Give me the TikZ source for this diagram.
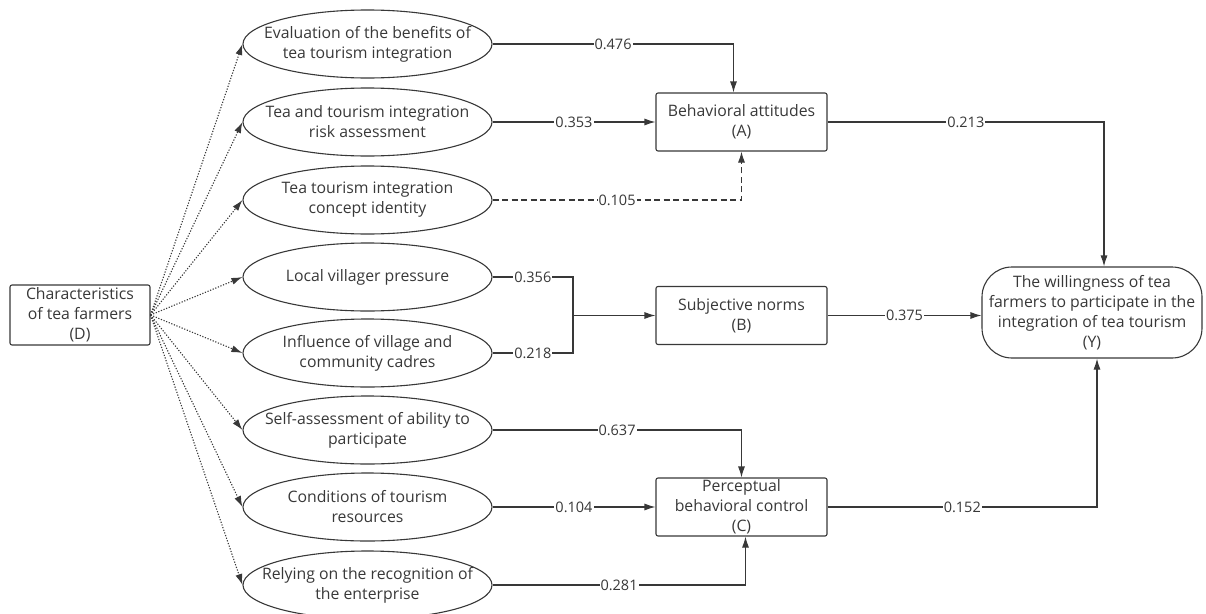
\documentclass[tikz,border=0pt]{standalone}
\usepackage{fontspec}
\setmainfont{Open Sans}
\usetikzlibrary{arrows.meta,shapes.geometric,positioning}

\definecolor{linegray}{HTML}{383838}
\definecolor{textgray}{HTML}{383838}

\tikzset{
  txt/.style={text=textgray, align=center, font=\fontsize{15.8}{20}\selectfont},
  factor/.style={txt, ellipse, draw=linegray, line width=1.1pt, minimum width=249pt, minimum height=68pt, inner xsep=-30pt, inner ysep=0pt},
  box/.style={txt, rectangle, rounded corners=2pt, draw=linegray, line width=1.1pt, minimum width=171pt, minimum height=58pt, inner sep=0pt},
  goal/.style={txt, rectangle, rounded corners=30pt, draw=linegray, line width=1.1pt, minimum width=220pt, minimum height=91pt, inner sep=0pt},
  effect/.style={draw=linegray, line width=1.1pt, -{Latex[length=11pt,width=7pt]}},
  spread/.style={effect, dash pattern=on 1.2pt off 1.6pt},
  weak/.style={effect, dash pattern=on 6pt off 3.5pt},
  coef/.style={fill=white, inner sep=1pt, text=textgray, font=\fontsize{14.5}{16}\selectfont}
}

\begin{document}
\begin{tikzpicture}[x=1pt, y=-1pt]
    \useasboundingbox (0,0) rectangle (1206,613);

% farmers and the eight factors
    \node[box, minimum width=140pt, minimum height=60pt] (D) at (80,315) {Characteristics\\of tea farmers\\(D)};
    \node[factor] (E1) at (367.5,44)  {Evaluation of the benefits of\\tea tourism integration};
    \node[factor] (E2) at (367.5,122) {Tea and tourism integration\\risk assessment};
    \node[factor] (E3) at (367.5,200) {Tea tourism integration\\concept identity};
    \node[factor] (E4) at (367.5,277) {Local villager pressure};
    \node[factor] (E5) at (367.5,353) {Influence of village and\\community cadres};
    \node[factor] (E6) at (367.5,430) {Self-assessment of ability to\\participate};
    \node[factor] (E7) at (367.5,507) {Conditions of tourism\\resources};
    \node[factor] (E8) at (367.5,585) {Relying on the recognition of\\the enterprise};

% the three mediators and the outcome
    \node[box] (A) at (741.5,122)   {Behavioral attitudes\\(A)};
    \node[box] (B) at (741.5,315.5) {Subjective norms\\(B)};
    \node[box] (C) at (741.5,507)   {Perceptual\\behavioral control\\(C)};
    \node[goal] (Y) at (1092,312.5) {The willingness of tea\\farmers to participate in the\\integration of tea tourism\\(Y)};
    \coordinate (Bj) at (573,315.5);

    \draw[spread] (D.east) -- (E1.west);
    \draw[spread] (D.east) -- (E2.west);
    \draw[spread] (D.east) -- (E3.west);
    \draw[spread] (D.east) -- (E4.west);
    \draw[spread] (D.east) -- (E5.west);
    \draw[spread] (D.east) -- (E6.west);
    \draw[spread] (D.east) -- (E7.west);
    \draw[spread] (D.east) -- (E8.west);

    \draw[effect] (E1.east) -| node[coef, pos=0.25]{0.476} ([xshift=-8pt]A.north);
    \draw[effect] (E2.east) -- node[coef]{0.353} (A.west);
    \draw[weak] (E3.east) -| node[coef, pos=0.25]{0.105} (A.south);

    \draw[draw=linegray, line width=1.1pt] (E4.east) -- node[coef]{0.356} (E4.east -| Bj) -- (E5.east -| Bj) -- node[coef]{0.218} (E5.east);
    \draw[effect] (Bj) -- (B.west);

    \draw[effect] (E6.east) -| node[coef, pos=0.25]{0.637} (C.north);
    \draw[effect] (E7.east) -- node[coef]{0.104} (C.west);
    \draw[effect] (E8.east) -| node[coef, pos=0.25]{0.281} ([xshift=4pt]C.south);

    \draw[effect] (A.east) -| node[coef, pos=0.25]{0.213} ([xshift=12pt]Y.north);
    \draw[effect] (B.east) -- node[coef]{0.375} (B.east -| Y.west);
    \draw[effect] (C.east) -| node[coef, pos=0.25]{0.152} ([xshift=5pt]Y.south);
\end{tikzpicture}
\end{document}
